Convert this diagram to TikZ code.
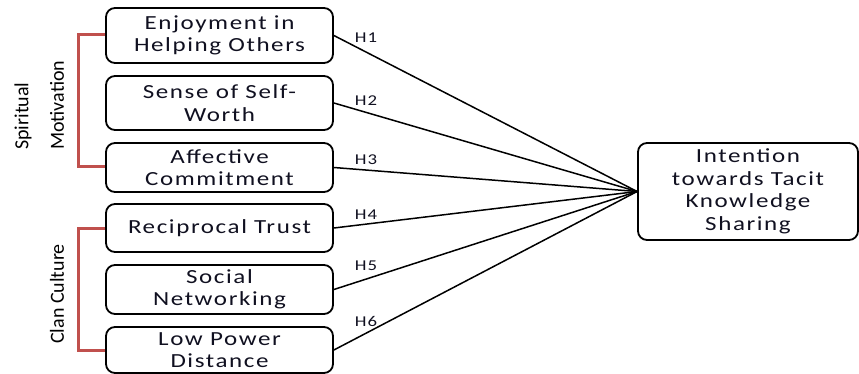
\documentclass[tikz,border=0pt]{standalone}
\usepackage{fontspec}
\setmainfont{Carlito}
\newfontfamily\boxfont[FakeStretch=1.25,LetterSpace=8]{Carlito}
\definecolor{brk}{HTML}{C0504D}
\definecolor{txt}{HTML}{101020}
\begin{document}
\begin{tikzpicture}[x=1pt,y=-1pt,
  box/.style={draw=black,line width=1.8pt,rounded corners=9pt,minimum width=227pt,align=center,inner sep=0pt,text=txt,font=\boxfont\fontsize{20}{22.5}\selectfont},
  conn/.style={draw=black,line width=1.5pt},
  hlab/.style={font=\boxfont\fontsize{15}{17}\selectfont,text=txt,inner sep=0pt},
  brack/.style={draw=brk,line width=3pt},
  grp/.style={font=\fontsize{20}{22}\selectfont,rotate=90,inner sep=0pt}]
\useasboundingbox (0,0) rectangle (859,374);
\node[box,minimum height=55pt] (b1) at (219.5,35.5) {Enjoyment in\\Helping Others};
\node[box,minimum height=54pt] (b2) at (219.5,103) {Sense of Self-\\Worth};
\node[box,minimum height=49pt] (b3) at (219.5,167.5) {Affective\\Commitment};
\node[box,minimum height=48pt] (b4) at (219.5,228) {Reciprocal Trust};
\node[box,minimum height=49pt] (b5) at (219.5,289.5) {Social\\Networking};
\node[box,minimum height=46pt] (b6) at (219.5,350) {Low Power\\Distance};
\node[box,minimum width=220pt,minimum height=97pt] (t) at (748,191.5) {Intention\\towards Tacit\\Knowledge\\Sharing};
\draw[conn] (b1.east) -- (t.west);
\draw[conn] (b2.east) -- (t.west);
\draw[conn] (b3.east) -- (t.west);
\draw[conn] (b4.east) -- (t.west);
\draw[conn] (b5.east) -- (t.west);
\draw[conn] (b6.east) -- (t.west);
\node[hlab] (h1) at (366,38) {H1};
\node[hlab] (h2) at (366,101) {H2};
\node[hlab] (h3) at (366,160) {H3};
\node[hlab] (h4) at (366,215) {H4};
\node[hlab] (h5) at (366,266) {H5};
\node[hlab] (h6) at (366,321) {H6};
\coordinate (s1) at (78,35);
\coordinate (s2) at (78,167);
\draw[brack] (b1.west |- s1) -- (s1) -- (s2) -- (b3.west |- s2);
\coordinate (c1) at (78,228);
\coordinate (c2) at (78,350);
\draw[brack] (b4.west |- c1) -- (c1) -- (c2) -- (b6.west |- c2);
\node[grp,anchor=west] (sp) at (23,150) {Spiritual};
\node[grp,anchor=west] (mo) at (57,150) {Motivation};
\node[grp] (cc) at (57,294) {Clan Culture};
\end{tikzpicture}
\end{document}
